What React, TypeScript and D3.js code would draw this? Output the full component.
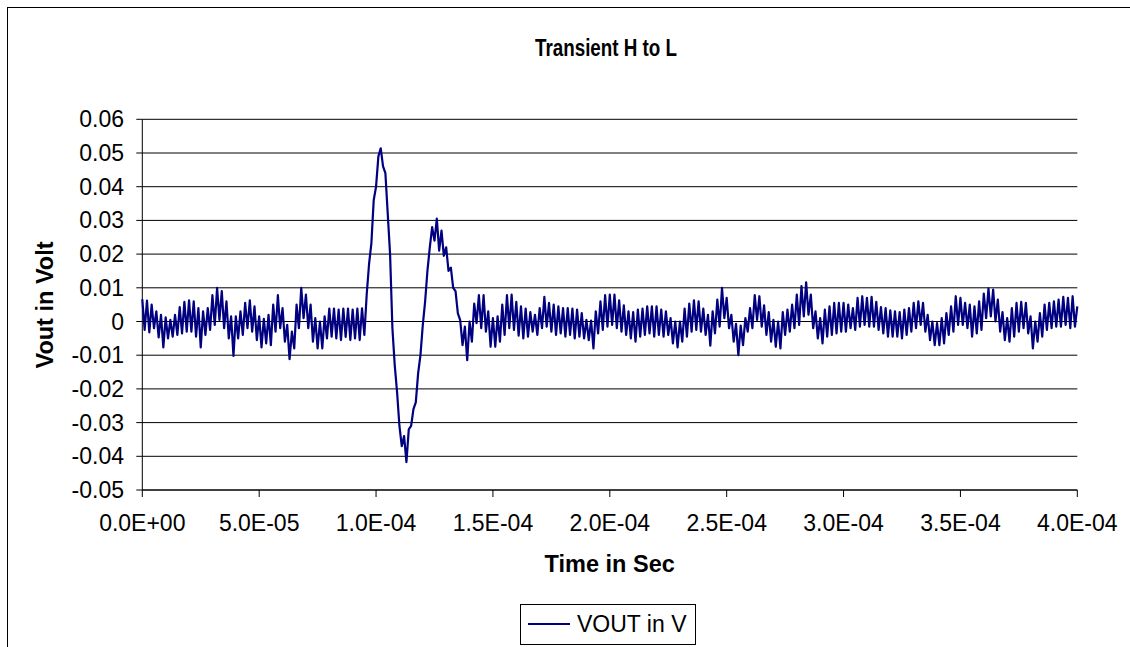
import React from "react";
import * as d3 from "d3";

const voutMilli: number[] = [
  6.6, -2.5, 6.2, -3.2, 5.0, -2.0, 3.0, -4.7, 2.0, -7.7,
  1.2, -5.0, 0.5, -4.5, 2.0, -4.0, 4.3, -3.5, 5.8, -3.0,
  6.3, -3.0, 6.0, -4.5, 4.0, -7.7, 3.0, -4.0, 4.0, -2.5,
  7.8, -1.0, 10.0, 0.5, 9.0, -2.0, 6.0, -5.0, 1.5, -10.2,
  1.5, -5.0, 3.0, -4.0, 5.5, -2.0, 6.3, -3.0, 4.5, -5.5,
  1.5, -7.7, 0.8, -6.5, 2.0, -7.0, 5.0, -3.0, 7.8, -2.0,
  4.0, -6.0, -1.0, -11.2, -3.0, -8.0, 5.0, -2.0, 10.0, 1.0,
  8.0, -2.0, 5.0, -6.0, 1.0, -8.0, 0.0, -8.0, 1.5, -5.0,
  3.8, -4.5, 3.8, -5.0, 3.5, -5.5, 3.8, -4.6, 3.8, -5.5,
  3.5, -5.0, 3.8, -5.5, 3.9, -4.0, 8.0, 17.0, 23.2, 36.0,
  40.0, 49.0, 51.4, 46.0, 44.0, 32.0, 20.0, -2.0, -13.0, -21.0,
  -31.0, -37.0, -34.0, -41.7, -32.0, -31.0, -26.0, -24.0, -15.4, -10.0,
  -1.0, 6.0, 15.2, 22.0, 28.0, 24.0, 30.5, 21.0, 27.0, 19.5,
  22.0, 15.0, 16.0, 10.0, 9.0, 2.4, 0.4, -7.0, -1.5, -11.5,
  0.0, -6.0, 5.3, -0.5, 7.8, -2.0, 7.8, -3.0, 3.0, -7.5,
  1.0, -7.5, 1.5, -6.0, 5.0, -4.0, 7.8, -2.0, 8.0, -2.5,
  5.8, -4.2, 4.5, -5.0, 3.8, -4.5, 2.8, -3.0, 2.0, -4.0,
  4.0, -2.0, 7.3, -1.5, 5.5, -3.0, 5.0, -4.0, 4.5, -3.5,
  4.0, -4.5, 4.0, -4.0, 3.8, -5.0, 3.5, -4.5, 2.5, -5.0,
  0.5, -5.5, 0.3, -8.0, 3.0, -3.5, 6.0, -2.5, 7.8, -1.5,
  8.0, -1.0, 8.0, -2.0, 6.3, -3.0, 4.8, -4.0, 3.0, -5.0,
  2.8, -6.0, 3.5, -4.5, 3.8, -4.0, 4.5, -3.5, 4.5, -4.5,
  4.5, -4.0, 3.5, -4.5, 3.0, -4.0, 1.0, -6.5, 0.0, -7.7,
  0.0, -6.0, 3.8, -4.5, 5.3, -3.0, 6.3, -2.5, 6.0, -3.0,
  3.8, -4.0, 2.0, -7.2, 3.0, -3.5, 6.5, -1.5, 10.0, 1.0,
  7.0, -2.0, 2.0, -6.0, -0.7, -10.0, -1.2, -7.0, 1.0, -3.0,
  4.0, -2.0, 7.8, 0.5, 7.5, -1.5, 4.8, -4.0, 2.8, -6.0,
  0.5, -7.5, 0.0, -8.0, 2.8, -4.0, 3.5, -3.0, 5.0, -2.0,
  8.0, -1.0, 10.5, 1.5, 11.6, 2.0, 8.0, -2.0, 3.0, -5.0,
  1.0, -6.5, 3.5, -4.5, 4.5, -4.0, 5.5, -3.5, 5.5, -3.0,
  5.5, -3.0, 5.0, -2.0, 4.0, -2.5, 7.0, -1.5, 7.5, -1.0,
  7.0, -1.5, 7.3, -1.5, 5.8, -2.5, 4.3, -3.5, 4.0, -4.5,
  3.3, -4.5, 3.0, -4.5, 2.8, -5.0, 3.5, -4.0, 4.0, -3.0,
  5.5, -2.0, 6.0, -1.0, 5.5, -3.0, 2.0, -5.5, 0.0, -7.0,
  -0.5, -7.0, 1.0, -6.5, 2.5, -4.0, 4.5, -3.0, 7.5, -1.0,
  7.0, -1.0, 5.5, -2.0, 5.0, -4.5, 4.5, -3.5, 6.0, -2.5,
  8.3, 1.0, 9.8, 1.5, 9.5, 0.0, 6.5, -3.0, 2.8, -5.5,
  1.0, -6.0, 4.0, -4.5, 5.5, -3.0, 5.8, -2.0, 5.5, -3.5,
  1.5, -8.0, 0.0, -6.0, 2.5, -4.5, 5.0, -2.5, 5.5, -2.0,
  6.0, -1.5, 6.5, -1.5, 7.3, -1.0, 7.0, -2.0, 7.5, -1.5,
  4.5,
];
const sampleStepSec = 1e-6;

const xTickValues = [0, 5e-5, 1e-4, 1.5e-4, 2e-4, 2.5e-4, 3e-4, 3.5e-4, 4e-4];
const xTickLabels = ["0.0E+00", "5.0E-05", "1.0E-04", "1.5E-04", "2.0E-04", "2.5E-04", "3.0E-04", "3.5E-04", "4.0E-04"];
const yTickValues = [-0.05, -0.04, -0.03, -0.02, -0.01, 0, 0.01, 0.02, 0.03, 0.04, 0.05, 0.06];
const yTickLabels = ["-0.05", "-0.04", "-0.03", "-0.02", "-0.01", "0", "0.01", "0.02", "0.03", "0.04", "0.05", "0.06"];

const titleText = "Transient H to L";
const xTitle = "Time in Sec";
const yTitle = "Vout in Volt";
const seriesName = "VOUT in V";

const W = 1130;
const H = 647;
const FONT = "'Liberation Sans', Arial, Helvetica, sans-serif";
const LINE_COLOR = "#000080";

export default function App() {
  const x = d3.scaleLinear().domain([0, 4e-4]).range([142.3, 1077.3]);
  const y = d3.scaleLinear().domain([-0.05, 0.06]).range([490, 119.3]);

  const points: [number, number][] = voutMilli.map((v, i) => [i * sampleStepSec, v / 1000]);
  const line = d3
    .line<[number, number]>()
    .x((d) => x(d[0]))
    .y((d) => y(d[1]));
  const path = line(points) || "";

  const [x0, x1] = x.range();
  const [yb, yt] = y.range();

  return (
    <svg
      width={W}
      height={H}
      viewBox={`0 0 ${W} ${H}`}
      style={{ position: "absolute", left: 0, top: 0, background: "#fff" }}
    >
      <rect x={0} y={0} width={W} height={H} fill="#fff" />
      {/* outer chart border */}
      <rect x={7.5} y={7.5} width={W + 20} height={H + 20} fill="none" stroke="#000" strokeWidth={1} />

      {/* title (slightly condensed glyphs, as in the reference) */}
      <text
        transform="translate(606,55.5) scale(0.8,1)"
        textAnchor="middle"
        fontFamily={FONT}
        fontWeight="bold"
        fontSize={23.5}
      >
        {titleText}
      </text>

      {/* gridlines */}
      {yTickValues.map((v) => (
        <line key={"g" + v} x1={x0} x2={x1} y1={y(v)} y2={y(v)} stroke="#000" strokeWidth={1} />
      ))}

      {/* y axis */}
      <line x1={x0} x2={x0} y1={yt} y2={yb} stroke="#000" strokeWidth={1} />
      {yTickValues.map((v, i) => (
        <g key={"yt" + v}>
          <line x1={x0 - 6} x2={x0} y1={y(v)} y2={y(v)} stroke="#000" strokeWidth={1} />
          <text
            x={124}
            y={y(v) + 8}
            textAnchor="end"
            fontFamily={FONT}
            fontSize={23}
            fill="#000"
          >
            {yTickLabels[i]}
          </text>
        </g>
      ))}

      {/* x axis */}
      <line x1={x0} x2={x1} y1={yb} y2={yb} stroke="#000" strokeWidth={1} />
      {xTickValues.map((v, i) => (
        <g key={"xt" + v}>
          <line x1={x(v)} x2={x(v)} y1={yb} y2={yb + 7} stroke="#000" strokeWidth={1} />
          <text x={x(v)} y={530.5} textAnchor="middle" fontFamily={FONT} fontSize={23} fill="#000">
            {xTickLabels[i]}
          </text>
        </g>
      ))}

      {/* series */}
      <path d={path} fill="none" stroke={LINE_COLOR} strokeWidth={2.2} strokeLinejoin="round" />

      {/* axis titles */}
      <text x={609.7} y={571.5} textAnchor="middle" fontFamily={FONT} fontWeight="bold" fontSize={23.5}>
        {xTitle}
      </text>
      <text
        transform="translate(53,305) rotate(-90)"
        textAnchor="middle"
        fontFamily={FONT}
        fontWeight="bold"
        fontSize={23.5}
      >
        {yTitle}
      </text>

      {/* legend */}
      <rect x={520.5} y={604.5} width={175} height={40} fill="#fff" stroke="#000" strokeWidth={1} />
      <line x1={528} x2={570} y1={624} y2={624} stroke={LINE_COLOR} strokeWidth={2} />
      <text x={577} y={631.5} fontFamily={FONT} fontSize={23} fill="#000">
        {seriesName}
      </text>
    </svg>
  );
}
